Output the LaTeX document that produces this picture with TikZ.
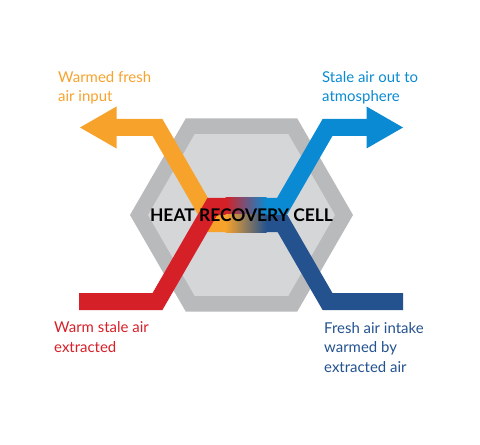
\documentclass[tikz,border=0pt]{standalone}
\usepackage{fontspec}
\setmainfont{Lato}
\usetikzlibrary{positioning}

\definecolor{warmorange}{HTML}{F7A22B}
\definecolor{stalered}{HTML}{D62027}
\definecolor{outblue}{HTML}{0A8AD2}
\definecolor{freshblue}{HTML}{23528F}
\definecolor{hexouter}{HTML}{B9BABC}
\definecolor{hexinner}{HTML}{D5D6D8}

\tikzset{
  pipe/.style={line width=17bp, line join=miter, line cap=butt},
  flowlabel/.style={anchor=base west, inner sep=0pt, align=left,
    font=\fontsize{15}{19.5}\selectfont},
}

\begin{document}
\begin{tikzpicture}[x=1bp,y=-1bp]
	\useasboundingbox (0,0) rectangle (480,445);

	% the cell
	\coordinate (cell) at (241.5,215);
	\begin{scope}[shift={(cell)}]
		\fill[hexouter] (0:111.5) \foreach \a in {60,120,...,300} {-- (\a:111.5)} -- cycle;
		\fill[hexinner] (0:93.5) \foreach \a in {60,120,...,300} {-- (\a:93.5)} -- cycle;
	\end{scope}

	% fresh air path
	\draw[pipe, warmorange] (116,127.5) -- (157.5,127.5) -- (212.9,223.5) -- (226,223.5);
	\draw[pipe, freshblue] (403,301.5) -- (327.5,301.5) -- (282.5,223.5) -- (266,223.5);
	\fill[warmorange] (80,127.5) -- (116.5,106.5) -- (116.5,148.5) -- cycle;

	% stale air path
	\draw[pipe, stalered] (79,301.5) -- (157.5,301.5) -- (212.3,206.5) -- (226,206.5);
	\draw[pipe, outblue] (266,206.5) -- (281.9,206.5) -- (327.5,127.5) -- (367,127.5);
	\fill[outblue] (403,127.5) -- (366.5,106.5) -- (366.5,148.5) -- cycle;

	% exchange inside the cell
	\shade[left color=stalered, right color=outblue] (225.5,198) rectangle (266.5,215);
	\shade[left color=warmorange, right color=freshblue] (225.5,215) rectangle (266.5,232);

	\node[font=\fontsize{17.5}{17.5}\selectfont\bfseries, inner sep=0pt] (title) at (cell) {HEAT RECOVERY CELL};

	% labels (anchored at the last line)
	\node[flowlabel, text=warmorange] (warmed) at (58,102) {Warmed fresh\\air input};
	\node[flowlabel, text=outblue] (stale) at (322,102) {Stale air out to\\atmosphere};
	\node[flowlabel, text=stalered] (extract) at (54,352) {Warm stale air\\extracted};
	\node[flowlabel, text=freshblue] (intake) at (324,372) {Fresh air intake\\warmed by\\extracted air};
\end{tikzpicture}
\end{document}
